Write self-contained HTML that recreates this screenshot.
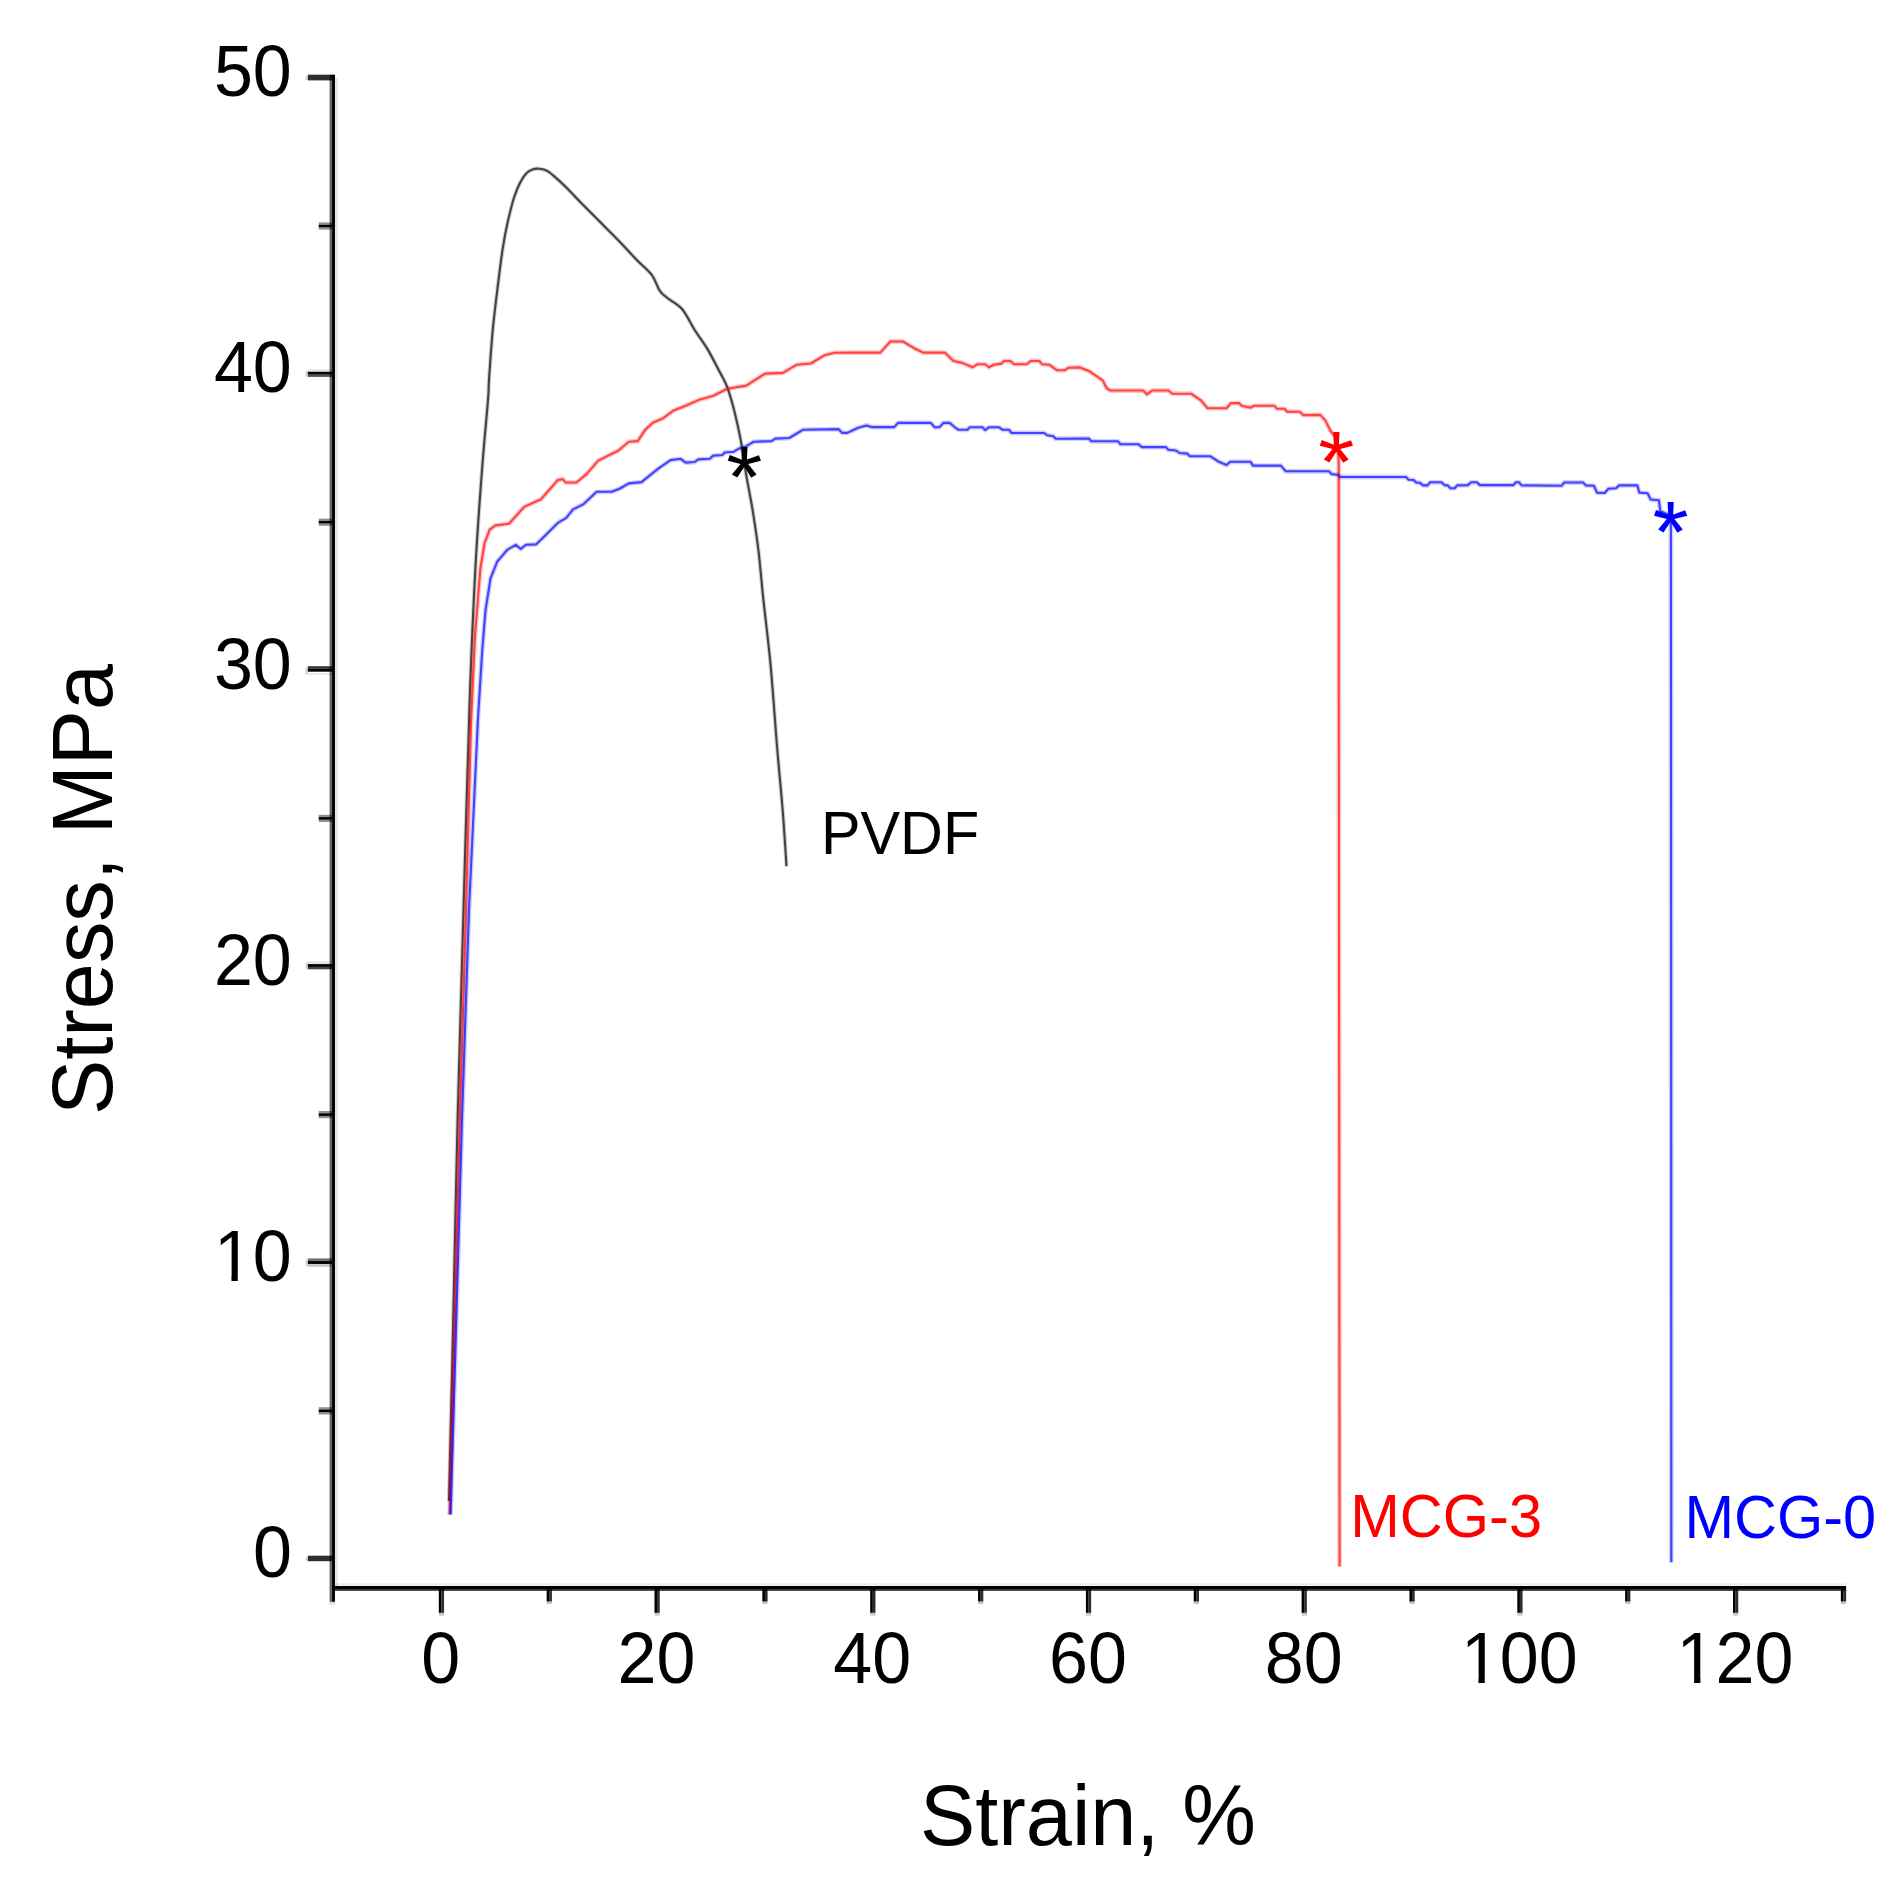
<!DOCTYPE html>
<html lang="en"><head><meta charset="utf-8"><title>Stress-strain curves</title>
<style>
html,body{margin:0;padding:0;background:#fff}
body{width:1901px;height:1901px;overflow:hidden}
svg{display:block}
text{font-family:"Liberation Sans",sans-serif}
</style></head>
<body>
<svg width="1901" height="1901" viewBox="0 0 1901 1901">
<rect width="1901" height="1901" fill="#fff"/>
<g shape-rendering="geometricPrecision">
<rect x="438.80" y="1588.00" width="2.60" height="24.80" fill="#000"/>
<rect x="441.40" y="1588.00" width="2.65" height="24.80" fill="#000" fill-opacity="0.827"/>
<rect x="438.80" y="1612.80" width="5.25" height="2.80" fill="#000" fill-opacity="0.224"/>
<rect x="654.50" y="1588.00" width="2.60" height="24.80" fill="#000"/>
<rect x="657.10" y="1588.00" width="2.65" height="24.80" fill="#000" fill-opacity="0.827"/>
<rect x="654.50" y="1612.80" width="5.25" height="2.80" fill="#000" fill-opacity="0.224"/>
<rect x="870.20" y="1588.00" width="2.60" height="24.80" fill="#000"/>
<rect x="872.80" y="1588.00" width="2.65" height="24.80" fill="#000" fill-opacity="0.827"/>
<rect x="870.20" y="1612.80" width="5.25" height="2.80" fill="#000" fill-opacity="0.224"/>
<rect x="1085.90" y="1588.00" width="2.60" height="24.80" fill="#000"/>
<rect x="1088.50" y="1588.00" width="2.65" height="24.80" fill="#000" fill-opacity="0.827"/>
<rect x="1085.90" y="1612.80" width="5.25" height="2.80" fill="#000" fill-opacity="0.224"/>
<rect x="1301.60" y="1588.00" width="2.60" height="24.80" fill="#000"/>
<rect x="1304.20" y="1588.00" width="2.65" height="24.80" fill="#000" fill-opacity="0.827"/>
<rect x="1301.60" y="1612.80" width="5.25" height="2.80" fill="#000" fill-opacity="0.224"/>
<rect x="1517.30" y="1588.00" width="2.60" height="24.80" fill="#000"/>
<rect x="1519.90" y="1588.00" width="2.65" height="24.80" fill="#000" fill-opacity="0.827"/>
<rect x="1517.30" y="1612.80" width="5.25" height="2.80" fill="#000" fill-opacity="0.224"/>
<rect x="1733.00" y="1588.00" width="2.60" height="24.80" fill="#000"/>
<rect x="1735.60" y="1588.00" width="2.65" height="24.80" fill="#000" fill-opacity="0.827"/>
<rect x="1733.00" y="1612.80" width="5.25" height="2.80" fill="#000" fill-opacity="0.224"/>
<rect x="546.65" y="1588.00" width="2.60" height="13.50" fill="#000"/>
<rect x="549.25" y="1588.00" width="2.65" height="13.50" fill="#000" fill-opacity="0.827"/>
<rect x="546.65" y="1601.50" width="5.25" height="2.50" fill="#000" fill-opacity="0.224"/>
<rect x="762.35" y="1588.00" width="2.60" height="13.50" fill="#000"/>
<rect x="764.95" y="1588.00" width="2.65" height="13.50" fill="#000" fill-opacity="0.827"/>
<rect x="762.35" y="1601.50" width="5.25" height="2.50" fill="#000" fill-opacity="0.224"/>
<rect x="978.05" y="1588.00" width="2.60" height="13.50" fill="#000"/>
<rect x="980.65" y="1588.00" width="2.65" height="13.50" fill="#000" fill-opacity="0.827"/>
<rect x="978.05" y="1601.50" width="5.25" height="2.50" fill="#000" fill-opacity="0.224"/>
<rect x="1193.75" y="1588.00" width="2.60" height="13.50" fill="#000"/>
<rect x="1196.35" y="1588.00" width="2.65" height="13.50" fill="#000" fill-opacity="0.827"/>
<rect x="1193.75" y="1601.50" width="5.25" height="2.50" fill="#000" fill-opacity="0.224"/>
<rect x="1409.45" y="1588.00" width="2.60" height="13.50" fill="#000"/>
<rect x="1412.05" y="1588.00" width="2.65" height="13.50" fill="#000" fill-opacity="0.827"/>
<rect x="1409.45" y="1601.50" width="5.25" height="2.50" fill="#000" fill-opacity="0.224"/>
<rect x="1625.15" y="1588.00" width="2.60" height="13.50" fill="#000"/>
<rect x="1627.75" y="1588.00" width="2.65" height="13.50" fill="#000" fill-opacity="0.827"/>
<rect x="1625.15" y="1601.50" width="5.25" height="2.50" fill="#000" fill-opacity="0.224"/>
<rect x="335.00" y="1583.30" width="1511.10" height="2.30" fill="#000" fill-opacity="0.075"/>
<rect x="332.00" y="1586.00" width="1514.10" height="3.00" fill="#000"/>
<rect x="332.00" y="1589.00" width="1514.10" height="1.90" fill="#000" fill-opacity="0.773"/>
<rect x="1840.85" y="1588.00" width="2.60" height="13.50" fill="#000"/>
<rect x="1843.45" y="1588.00" width="2.65" height="13.50" fill="#000" fill-opacity="0.827"/>
<rect x="1840.85" y="1601.50" width="5.25" height="2.50" fill="#000" fill-opacity="0.224"/>
<rect x="329.55" y="74.70" width="2.50" height="1527.10" fill="#000" fill-opacity="0.584"/>
<rect x="318.70" y="1407.20" width="13.60" height="2.30" fill="#000" fill-opacity="0.435"/>
<rect x="318.70" y="1409.50" width="13.60" height="2.60" fill="#000"/>
<rect x="318.70" y="1412.10" width="13.60" height="2.30" fill="#000" fill-opacity="0.435"/>
<rect x="318.70" y="1111.00" width="13.60" height="2.30" fill="#000" fill-opacity="0.435"/>
<rect x="318.70" y="1113.30" width="13.60" height="2.60" fill="#000"/>
<rect x="318.70" y="1115.90" width="13.60" height="2.30" fill="#000" fill-opacity="0.435"/>
<rect x="318.70" y="814.80" width="13.60" height="2.30" fill="#000" fill-opacity="0.435"/>
<rect x="318.70" y="817.10" width="13.60" height="2.60" fill="#000"/>
<rect x="318.70" y="819.70" width="13.60" height="2.30" fill="#000" fill-opacity="0.435"/>
<rect x="318.70" y="518.60" width="13.60" height="2.30" fill="#000" fill-opacity="0.435"/>
<rect x="318.70" y="520.90" width="13.60" height="2.60" fill="#000"/>
<rect x="318.70" y="523.50" width="13.60" height="2.30" fill="#000" fill-opacity="0.435"/>
<rect x="318.70" y="222.40" width="13.60" height="2.30" fill="#000" fill-opacity="0.435"/>
<rect x="318.70" y="224.70" width="13.60" height="2.60" fill="#000"/>
<rect x="318.70" y="227.30" width="13.60" height="2.30" fill="#000" fill-opacity="0.435"/>
<rect x="305.50" y="76.20" width="2.30" height="3.70" fill="#000" fill-opacity="0.169"/>
<rect x="307.80" y="74.70" width="24.50" height="5.70" fill="#000" fill-opacity="0.820"/>
<rect x="305.50" y="370.80" width="2.30" height="5.60" fill="#000" fill-opacity="0.169"/>
<rect x="307.80" y="369.30" width="24.50" height="2.45" fill="#000" fill-opacity="0.114"/>
<rect x="307.80" y="371.75" width="24.50" height="2.85" fill="#000"/>
<rect x="307.80" y="374.60" width="24.50" height="2.30" fill="#000" fill-opacity="0.686"/>
<rect x="305.50" y="667.70" width="2.30" height="6.80" fill="#000" fill-opacity="0.169"/>
<rect x="307.80" y="666.20" width="24.50" height="2.70" fill="#000" fill-opacity="0.780"/>
<rect x="307.80" y="668.90" width="24.50" height="2.80" fill="#000"/>
<rect x="307.80" y="673.00" width="24.50" height="2.00" fill="#000" fill-opacity="0.075"/>
<rect x="305.50" y="962.75" width="2.30" height="6.05" fill="#000" fill-opacity="0.169"/>
<rect x="307.80" y="961.25" width="24.50" height="2.85" fill="#000" fill-opacity="0.098"/>
<rect x="307.80" y="964.10" width="24.50" height="2.80" fill="#000"/>
<rect x="307.80" y="966.90" width="24.50" height="2.40" fill="#000" fill-opacity="0.733"/>
<rect x="305.50" y="1259.90" width="2.30" height="6.40" fill="#000" fill-opacity="0.169"/>
<rect x="307.80" y="1258.40" width="24.50" height="2.65" fill="#000" fill-opacity="0.561"/>
<rect x="307.80" y="1261.05" width="24.50" height="2.90" fill="#000"/>
<rect x="307.80" y="1263.95" width="24.50" height="2.85" fill="#000" fill-opacity="0.216"/>
<rect x="305.50" y="1557.20" width="2.30" height="3.50" fill="#000" fill-opacity="0.169"/>
<rect x="307.80" y="1555.70" width="24.50" height="5.50" fill="#000" fill-opacity="0.820"/>
<rect x="332.05" y="74.70" width="2.90" height="1527.10" fill="#000"/>
<rect x="335.10" y="77.70" width="2.50" height="1508.30" fill="#000" fill-opacity="0.114"/>
<rect x="329.55" y="1601.80" width="5.40" height="2.70" fill="#000" fill-opacity="0.137"/>
</g>
<defs><clipPath id="one" clipPathUnits="userSpaceOnUse"><rect x="-5" y="-70" width="220" height="64.2"/><rect x="17.55" y="-6" width="6.3" height="7"/><rect x="37" y="-6" width="180" height="12"/></clipPath></defs>
<text transform="translate(252.9,1577.1) scale(1,1.04)" font-size="70" text-anchor="start" fill="#000">0</text>
<text clip-path="url(#one)" transform="translate(213.9,1280.9) scale(1,1.04)" font-size="70" text-anchor="start" fill="#000">10</text>
<text transform="translate(213.9,984.7) scale(1,1.04)" font-size="70" text-anchor="start" fill="#000">20</text>
<text transform="translate(213.9,688.5) scale(1,1.04)" font-size="70" text-anchor="start" fill="#000">30</text>
<text transform="translate(213.9,392.3) scale(1,1.04)" font-size="70" text-anchor="start" fill="#000">40</text>
<text transform="translate(213.9,96.1) scale(1,1.04)" font-size="70" text-anchor="start" fill="#000">50</text>
<text transform="translate(421.3,1683.0) scale(1,1.04)" font-size="70" text-anchor="start" fill="#000">0</text>
<text transform="translate(617.6,1683.0) scale(1,1.04)" font-size="70" text-anchor="start" fill="#000">20</text>
<text transform="translate(833.3,1683.0) scale(1,1.04)" font-size="70" text-anchor="start" fill="#000">40</text>
<text transform="translate(1049.0,1683.0) scale(1,1.04)" font-size="70" text-anchor="start" fill="#000">60</text>
<text transform="translate(1264.7,1683.0) scale(1,1.04)" font-size="70" text-anchor="start" fill="#000">80</text>
<text clip-path="url(#one)" transform="translate(1460.9,1683.0) scale(1,1.04)" font-size="70" text-anchor="start" fill="#000">100</text>
<text clip-path="url(#one)" transform="translate(1676.6,1683.0) scale(1,1.04)" font-size="70" text-anchor="start" fill="#000">120</text>
<text transform="translate(1088.0,1845.0) scale(1,1.04)" font-size="82.8" text-anchor="middle" fill="#000">Strain, %</text>
<text transform="translate(111.5,889.5) rotate(-90) scale(1,1.04)" font-size="82.8" text-anchor="middle" fill="#000">Stress, MPa</text>
<g fill="none" stroke-linejoin="round" stroke-linecap="butt">
<path stroke="rgba(0,0,0,0.18)" stroke-width="4.2" d="M449.0,1501.0 C449.7,1472.5 451.6,1393.5 453.0,1330.0 C454.4,1266.5 455.9,1190.0 457.6,1120.0 C459.4,1050.0 461.5,980.0 463.5,910.0 C465.5,840.0 467.7,756.9 469.7,700.0 C471.7,643.1 473.3,606.7 475.4,568.4 C477.4,530.1 479.9,498.1 482.0,470.0 C484.1,441.9 486.8,415.0 488.0,400.0 C489.2,385.0 488.2,391.7 489.0,379.9 C489.8,368.1 491.3,345.2 492.8,329.4 C494.3,313.6 496.2,298.9 497.9,285.2 C499.6,271.5 501.2,258.0 502.9,247.3 C504.6,236.6 506.1,229.2 508.0,220.8 C509.9,212.4 512.2,203.3 514.3,196.8 C516.4,190.3 518.5,185.7 520.6,181.7 C522.7,177.7 524.8,174.9 526.9,172.8 C529.0,170.7 531.1,170.0 533.2,169.3 C535.3,168.6 537.2,168.5 539.5,168.8 C541.8,169.1 544.4,169.4 547.1,170.9 C549.9,172.4 552.6,175.0 556.0,177.9 C559.4,180.8 563.1,184.4 567.3,188.6 C571.5,192.8 575.9,197.6 581.2,203.0 C586.5,208.4 592.8,214.7 598.9,220.8 C605.0,226.9 611.5,233.2 617.8,239.7 C624.1,246.2 631.1,254.1 636.8,260.0 C642.5,265.9 648.1,270.1 651.9,275.1 C655.7,280.2 657.0,286.5 659.5,290.3 C662.0,294.1 663.3,294.7 667.1,297.8 C670.9,300.9 677.6,303.8 682.2,309.2 C686.8,314.6 690.5,323.4 694.7,330.0 C698.9,336.6 703.5,342.3 707.4,348.9 C711.3,355.5 715.1,363.2 718.4,369.5 C721.7,375.8 724.5,380.0 727.1,386.8 C729.7,393.6 732.0,401.8 734.2,410.5 C736.4,419.2 738.5,428.4 740.5,438.9 C742.5,449.4 743.9,461.2 746.0,473.6 C748.1,486.0 751.0,499.9 753.1,513.1 C755.2,526.3 757.0,538.1 758.7,552.6 C760.4,567.1 761.4,581.3 763.4,599.9 C765.4,618.5 768.2,639.5 770.5,664.2 C772.8,689.0 775.1,723.1 777.2,748.4 C779.3,773.6 781.6,796.1 783.1,815.7 C784.6,835.3 785.9,857.8 786.5,866.2"/>
<path stroke="rgba(0,0,0,0.68)" stroke-width="2.1" d="M449.0,1501.0 C449.7,1472.5 451.6,1393.5 453.0,1330.0 C454.4,1266.5 455.9,1190.0 457.6,1120.0 C459.4,1050.0 461.5,980.0 463.5,910.0 C465.5,840.0 467.7,756.9 469.7,700.0 C471.7,643.1 473.3,606.7 475.4,568.4 C477.4,530.1 479.9,498.1 482.0,470.0 C484.1,441.9 486.8,415.0 488.0,400.0 C489.2,385.0 488.2,391.7 489.0,379.9 C489.8,368.1 491.3,345.2 492.8,329.4 C494.3,313.6 496.2,298.9 497.9,285.2 C499.6,271.5 501.2,258.0 502.9,247.3 C504.6,236.6 506.1,229.2 508.0,220.8 C509.9,212.4 512.2,203.3 514.3,196.8 C516.4,190.3 518.5,185.7 520.6,181.7 C522.7,177.7 524.8,174.9 526.9,172.8 C529.0,170.7 531.1,170.0 533.2,169.3 C535.3,168.6 537.2,168.5 539.5,168.8 C541.8,169.1 544.4,169.4 547.1,170.9 C549.9,172.4 552.6,175.0 556.0,177.9 C559.4,180.8 563.1,184.4 567.3,188.6 C571.5,192.8 575.9,197.6 581.2,203.0 C586.5,208.4 592.8,214.7 598.9,220.8 C605.0,226.9 611.5,233.2 617.8,239.7 C624.1,246.2 631.1,254.1 636.8,260.0 C642.5,265.9 648.1,270.1 651.9,275.1 C655.7,280.2 657.0,286.5 659.5,290.3 C662.0,294.1 663.3,294.7 667.1,297.8 C670.9,300.9 677.6,303.8 682.2,309.2 C686.8,314.6 690.5,323.4 694.7,330.0 C698.9,336.6 703.5,342.3 707.4,348.9 C711.3,355.5 715.1,363.2 718.4,369.5 C721.7,375.8 724.5,380.0 727.1,386.8 C729.7,393.6 732.0,401.8 734.2,410.5 C736.4,419.2 738.5,428.4 740.5,438.9 C742.5,449.4 743.9,461.2 746.0,473.6 C748.1,486.0 751.0,499.9 753.1,513.1 C755.2,526.3 757.0,538.1 758.7,552.6 C760.4,567.1 761.4,581.3 763.4,599.9 C765.4,618.5 768.2,639.5 770.5,664.2 C772.8,689.0 775.1,723.1 777.2,748.4 C779.3,773.6 781.6,796.1 783.1,815.7 C784.6,835.3 785.9,857.8 786.5,866.2"/>
<polyline stroke="rgba(255,0,0,0.22)" stroke-width="4.8" points="449.6,1514.5 454.5,1330.0 459.8,1120.0 466.0,910.0 471.1,719.9 475.0,635.7 480.4,568.4 484.6,543.0 489.7,529.6 495.6,525.4 509.0,523.7 524.2,506.9 541.0,499.3 557.8,480.0 562.9,479.1 565.4,482.5 576.4,482.5 586.5,474.1 598.2,460.6 618.5,450.5 628.8,441.7 637.7,441.1 645.3,429.7 652.8,422.8 662.9,418.4 673.0,410.8 685.7,405.8 698.3,400.1 713.4,395.7 727.3,388.7 746.3,385.6 765.2,373.6 782.9,372.9 796.8,364.7 810.7,363.5 824.5,355.3 834.6,352.7 850.0,352.6 880.3,352.6 890.4,341.5 903.0,341.5 909.3,345.3 915.7,349.0 923.2,352.6 944.7,352.6 953.5,361.0 962.4,362.9 972.5,367.3 977.5,364.2 985.1,364.2 988.9,367.3 993.9,364.8 1001.5,363.6 1004.0,361.0 1010.4,361.0 1014.1,364.2 1026.8,364.2 1030.6,361.0 1039.4,361.0 1041.9,364.2 1049.5,364.8 1057.1,370.3 1064.6,370.3 1068.4,367.7 1080.0,367.4 1088.8,370.9 1102.7,380.4 1106.5,388.0 1110.3,390.5 1143.1,390.5 1146.9,394.3 1152.0,390.5 1168.4,390.5 1172.2,393.7 1191.1,393.7 1201.2,400.6 1207.5,408.2 1226.5,408.2 1230.9,403.1 1239.1,403.1 1241.6,405.7 1250.5,407.6 1254.2,405.7 1274.4,405.7 1277.0,408.8 1284.5,408.8 1287.1,411.7 1299.7,411.7 1303.5,415.1 1320.2,414.9 1325.3,420.4 1330.3,430.5 1334.1,435.6 1337.8,447.0 1338.7,462.0 1339.0,920.0 1339.6,1566.4"/>
<polyline stroke="rgba(255,0,0,0.66)" stroke-width="2.1" points="449.6,1514.5 454.5,1330.0 459.8,1120.0 466.0,910.0 471.1,719.9 475.0,635.7 480.4,568.4 484.6,543.0 489.7,529.6 495.6,525.4 509.0,523.7 524.2,506.9 541.0,499.3 557.8,480.0 562.9,479.1 565.4,482.5 576.4,482.5 586.5,474.1 598.2,460.6 618.5,450.5 628.8,441.7 637.7,441.1 645.3,429.7 652.8,422.8 662.9,418.4 673.0,410.8 685.7,405.8 698.3,400.1 713.4,395.7 727.3,388.7 746.3,385.6 765.2,373.6 782.9,372.9 796.8,364.7 810.7,363.5 824.5,355.3 834.6,352.7 850.0,352.6 880.3,352.6 890.4,341.5 903.0,341.5 909.3,345.3 915.7,349.0 923.2,352.6 944.7,352.6 953.5,361.0 962.4,362.9 972.5,367.3 977.5,364.2 985.1,364.2 988.9,367.3 993.9,364.8 1001.5,363.6 1004.0,361.0 1010.4,361.0 1014.1,364.2 1026.8,364.2 1030.6,361.0 1039.4,361.0 1041.9,364.2 1049.5,364.8 1057.1,370.3 1064.6,370.3 1068.4,367.7 1080.0,367.4 1088.8,370.9 1102.7,380.4 1106.5,388.0 1110.3,390.5 1143.1,390.5 1146.9,394.3 1152.0,390.5 1168.4,390.5 1172.2,393.7 1191.1,393.7 1201.2,400.6 1207.5,408.2 1226.5,408.2 1230.9,403.1 1239.1,403.1 1241.6,405.7 1250.5,407.6 1254.2,405.7 1274.4,405.7 1277.0,408.8 1284.5,408.8 1287.1,411.7 1299.7,411.7 1303.5,415.1 1320.2,414.9 1325.3,420.4 1330.3,430.5 1334.1,435.6 1337.8,447.0 1338.7,462.0 1339.0,920.0 1339.6,1566.4"/>
<polyline stroke="rgba(0,0,255,0.2)" stroke-width="4.8" points="450.6,1514.5 456.0,1330.0 462.0,1120.0 469.0,910.0 477.9,719.9 482.1,652.5 485.5,610.4 490.5,578.5 497.2,561.6 507.3,549.8 515.8,544.8 520.8,549.0 525.9,544.8 536.0,544.4 547.7,533.0 557.8,522.9 566.3,517.8 573.0,509.4 583.1,504.4 596.6,491.8 611.7,491.8 620.0,488.5 628.8,483.4 641.5,482.1 657.9,468.9 670.5,460.1 680.6,458.8 685.7,462.6 694.5,462.0 698.3,459.4 709.6,458.8 713.4,455.6 722.3,455.0 724.8,452.5 733.6,451.8 738.7,448.7 746.3,446.2 753.8,441.7 771.5,441.1 775.3,438.6 789.2,438.0 796.8,433.5 803.1,429.7 838.4,429.1 842.2,432.9 847.3,432.9 857.6,428.0 866.4,425.4 871.5,427.1 894.2,427.1 898.0,422.9 930.8,422.9 934.6,427.3 939.6,427.1 943.4,422.9 949.7,422.9 954.8,427.3 958.6,429.8 967.4,429.8 969.9,427.3 982.6,427.3 985.1,430.1 988.9,427.3 999.0,427.3 1002.8,429.8 1009.1,429.8 1011.6,433.0 1044.4,433.0 1047.0,435.2 1053.3,436.2 1055.8,438.7 1088.8,438.5 1091.4,441.3 1117.9,441.3 1120.4,444.2 1138.1,444.2 1141.9,447.1 1165.9,447.1 1168.4,449.8 1176.0,450.5 1179.7,453.0 1187.3,453.6 1189.8,456.2 1210.1,456.2 1218.9,461.8 1226.5,465.0 1230.3,461.8 1250.5,461.8 1253.0,465.6 1280.8,465.6 1285.8,471.3 1329.0,471.2 1331.6,474.1 1337.9,474.7 1340.4,477.0 1406.1,477.0 1408.6,479.7 1413.6,480.0 1416.2,482.5 1420.0,482.9 1423.1,485.4 1427.5,485.4 1430.1,482.3 1441.4,482.3 1444.6,485.1 1447.7,485.4 1450.3,488.3 1454.7,488.3 1457.2,485.4 1467.9,485.1 1471.1,482.3 1476.8,482.3 1479.9,485.1 1513.4,485.1 1515.9,482.3 1519.1,482.3 1521.6,485.4 1561.7,485.7 1564.2,482.5 1583.1,482.5 1585.7,485.4 1593.9,485.7 1597.0,492.6 1604.6,493.0 1608.4,488.8 1616.0,488.2 1619.1,485.4 1637.4,485.4 1639.3,492.6 1647.5,493.2 1650.7,499.5 1658.9,500.2 1660.2,510.9 1670.9,516.0 1671.1,900.0 1671.3,1562.3"/>
<polyline stroke="rgba(0,0,255,0.68)" stroke-width="2.1" points="450.6,1514.5 456.0,1330.0 462.0,1120.0 469.0,910.0 477.9,719.9 482.1,652.5 485.5,610.4 490.5,578.5 497.2,561.6 507.3,549.8 515.8,544.8 520.8,549.0 525.9,544.8 536.0,544.4 547.7,533.0 557.8,522.9 566.3,517.8 573.0,509.4 583.1,504.4 596.6,491.8 611.7,491.8 620.0,488.5 628.8,483.4 641.5,482.1 657.9,468.9 670.5,460.1 680.6,458.8 685.7,462.6 694.5,462.0 698.3,459.4 709.6,458.8 713.4,455.6 722.3,455.0 724.8,452.5 733.6,451.8 738.7,448.7 746.3,446.2 753.8,441.7 771.5,441.1 775.3,438.6 789.2,438.0 796.8,433.5 803.1,429.7 838.4,429.1 842.2,432.9 847.3,432.9 857.6,428.0 866.4,425.4 871.5,427.1 894.2,427.1 898.0,422.9 930.8,422.9 934.6,427.3 939.6,427.1 943.4,422.9 949.7,422.9 954.8,427.3 958.6,429.8 967.4,429.8 969.9,427.3 982.6,427.3 985.1,430.1 988.9,427.3 999.0,427.3 1002.8,429.8 1009.1,429.8 1011.6,433.0 1044.4,433.0 1047.0,435.2 1053.3,436.2 1055.8,438.7 1088.8,438.5 1091.4,441.3 1117.9,441.3 1120.4,444.2 1138.1,444.2 1141.9,447.1 1165.9,447.1 1168.4,449.8 1176.0,450.5 1179.7,453.0 1187.3,453.6 1189.8,456.2 1210.1,456.2 1218.9,461.8 1226.5,465.0 1230.3,461.8 1250.5,461.8 1253.0,465.6 1280.8,465.6 1285.8,471.3 1329.0,471.2 1331.6,474.1 1337.9,474.7 1340.4,477.0 1406.1,477.0 1408.6,479.7 1413.6,480.0 1416.2,482.5 1420.0,482.9 1423.1,485.4 1427.5,485.4 1430.1,482.3 1441.4,482.3 1444.6,485.1 1447.7,485.4 1450.3,488.3 1454.7,488.3 1457.2,485.4 1467.9,485.1 1471.1,482.3 1476.8,482.3 1479.9,485.1 1513.4,485.1 1515.9,482.3 1519.1,482.3 1521.6,485.4 1561.7,485.7 1564.2,482.5 1583.1,482.5 1585.7,485.4 1593.9,485.7 1597.0,492.6 1604.6,493.0 1608.4,488.8 1616.0,488.2 1619.1,485.4 1637.4,485.4 1639.3,492.6 1647.5,493.2 1650.7,499.5 1658.9,500.2 1660.2,510.9 1670.9,516.0 1671.1,900.0 1671.3,1562.3"/>
</g>
<text transform="translate(821.0,854.2) scale(1,1.04)" font-size="59.3" text-anchor="start" fill="#000">PVDF</text>
<text transform="translate(1350.3,1536.8) scale(1,1.04)" font-size="59.5" text-anchor="start" fill="#f00">MCG-3</text>
<text transform="translate(1684.4,1538.2) scale(1,1.04)" font-size="59.5" text-anchor="start" fill="#00f">MCG-0</text>
<text transform="translate(744.4,462.2) scale(1,0.93)" x="0" y="47.95" font-size="93" text-anchor="middle" fill="#000">*</text>
<text transform="translate(1336.3,447.2) scale(1,0.93)" x="0" y="47.95" font-size="93" text-anchor="middle" fill="#f00">*</text>
<text transform="translate(1670.6,516.9) scale(1,0.93)" x="0" y="47.95" font-size="93" text-anchor="middle" fill="#00f">*</text>
</svg>
</body></html>
